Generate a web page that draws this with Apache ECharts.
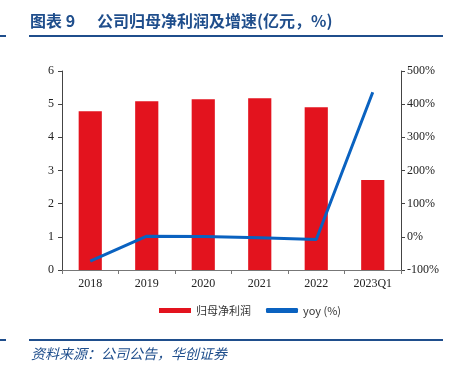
<!DOCTYPE html>
<html>
<head>
<meta charset="utf-8">
<script src="https://cdn.jsdelivr.net/npm/echarts@6/dist/echarts.min.js"></script>
<style>
  html, body { margin: 0; padding: 0; background: #fff; }
  #main { width: 451px; height: 368px; }
</style>
</head>
<body>
<div id="main"></div>
<script>
// 数据
const years = ['2018', '2019', '2020', '2021', '2022', '2023Q1'];
const profit = [4.79, 5.09, 5.15, 5.18, 4.91, 2.71];
const yoy = [-73, 2, 1, -3, -8, 436];

const blue = '#1F4E8C';
const serif = '"Liberation Serif", "Times New Roman", serif';
const cjk = '"Noto Sans CJK SC", sans-serif';

const chart = echarts.init(document.getElementById('main'), null, { renderer: 'canvas' });
chart.setOption({
    animation: false,
    color: ['#E3131E', '#0A62C0'],
    grid: { left: 62, right: 50, top: 71, bottom: 98 },
    legend: {
        top: 300,
        left: 154,
        itemGap: 15,
        itemWidth: 32,
        itemHeight: 5,
        textStyle: { fontFamily: cjk, fontSize: 11, color: '#333' },
        data: [
            { name: '归母净利润', icon: 'rect' },
            { name: 'yoy (%)', icon: 'roundRect' }
        ]
    },
    xAxis: {
        type: 'category',
        data: years,
        axisLine: { lineStyle: { color: '#777' } },
        axisTick: { show: true, length: 4, lineStyle: { color: '#777' } },
        axisLabel: { fontFamily: serif, fontSize: 12, color: '#222', margin: 8 }
    },
    yAxis: [
        {
            type: 'value',
            min: 0,
            max: 6,
            interval: 1,
            splitLine: { show: false },
            axisLine: { show: true, lineStyle: { color: '#444' } },
            axisTick: { show: true, length: 4, lineStyle: { color: '#444' } },
            axisLabel: { fontFamily: serif, fontSize: 12, color: '#222', margin: 8 }
        },
        {
            type: 'value',
            min: -100,
            max: 500,
            interval: 100,
            splitLine: { show: false },
            axisLine: { show: true, lineStyle: { color: '#444' } },
            axisTick: { show: true, length: 4, lineStyle: { color: '#444' } },
            axisLabel: { fontFamily: serif, fontSize: 12, color: '#222', margin: 6, formatter: '{value}%' }
        }
    ],
    series: [
        {
            name: '归母净利润',
            type: 'bar',
            data: profit,
            barWidth: '41%'
        },
        {
            name: 'yoy (%)',
            type: 'line',
            yAxisIndex: 1,
            data: yoy,
            symbol: 'none',
            lineStyle: { width: 3 }
        }
    ],
    graphic: [
        {
            type: 'text', left: 30, top: 13,
            style: {
                text: '{a|图表 9}{b|公司归母净利润及增速(亿元，%)}',
                rich: {
                    a: { fontFamily: cjk, fontSize: 16, fontWeight: 'bold', fill: blue, width: 67 },
                    b: { fontFamily: cjk, fontSize: 16, fontWeight: 'bold', fill: blue }
                }
            }
        },
        { type: 'rect', shape: { x: 29, y: 35, width: 414, height: 2 }, style: { fill: blue } },
        { type: 'rect', shape: { x: 0, y: 35, width: 6, height: 2 }, style: { fill: blue } },
        { type: 'rect', shape: { x: 29, y: 339, width: 414, height: 2 }, style: { fill: blue } },
        { type: 'rect', shape: { x: 0, y: 339, width: 6, height: 2 }, style: { fill: blue } },
        {
            type: 'text', left: 31, top: 347,
            style: { text: '资料来源：公司公告，华创证券', fontFamily: cjk, fontSize: 14, fontStyle: 'italic', fill: blue }
        }
    ]
});
</script>
</body>
</html>
